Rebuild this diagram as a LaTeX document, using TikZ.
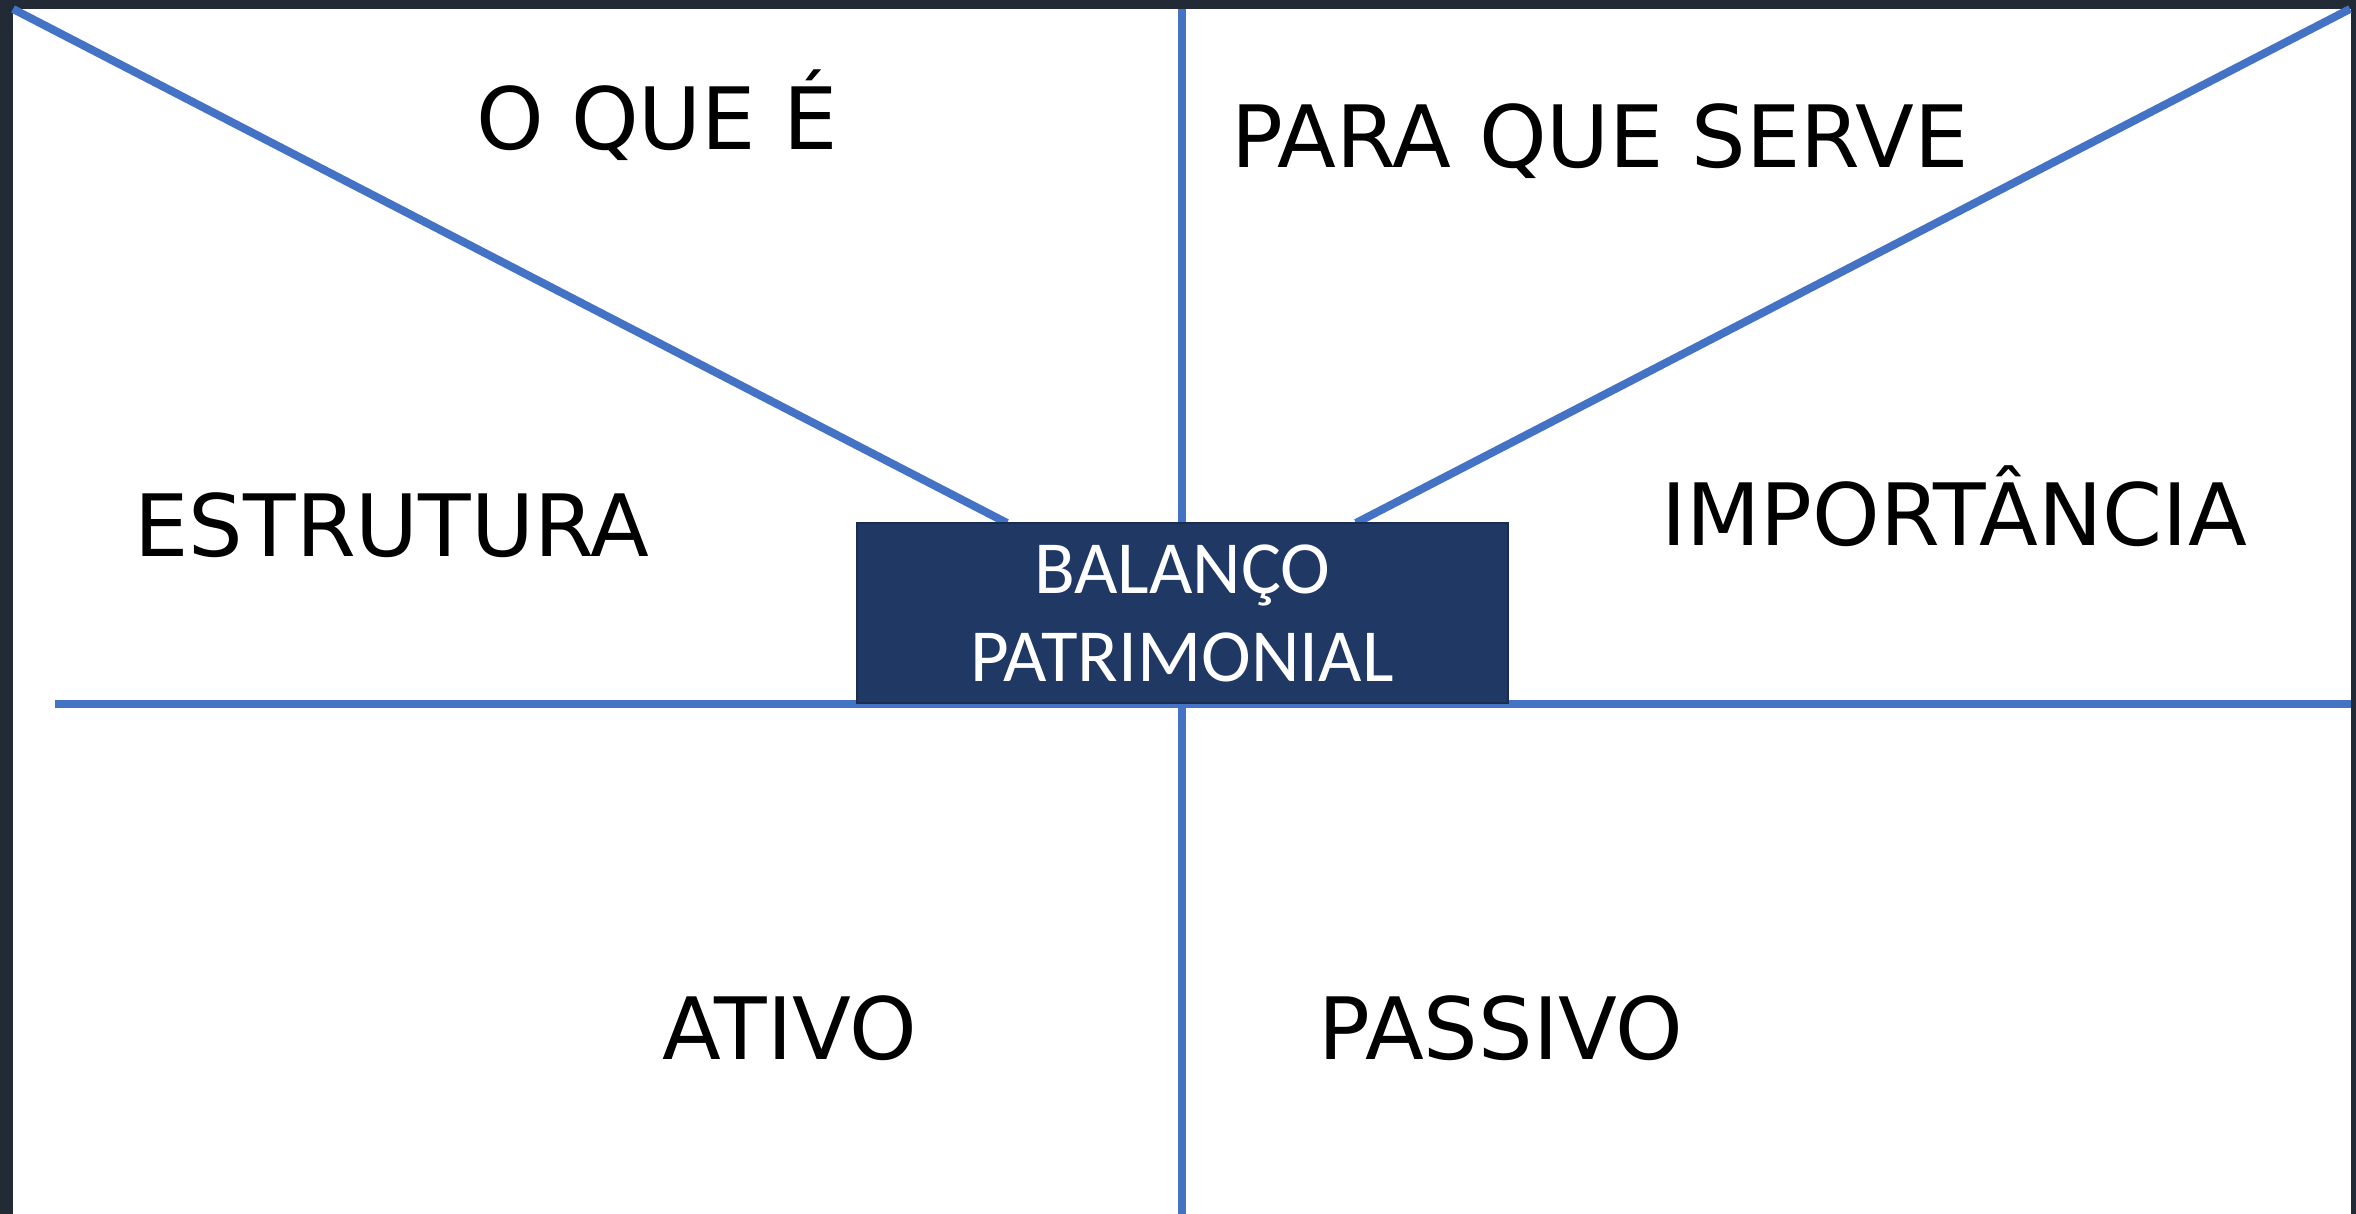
\documentclass[tikz,border=0pt]{standalone}
\usepackage{fontspec}
\setmainfont{DejaVu Sans}
\newfontfamily\boxfont{Carlito}
\definecolor{frame}{HTML}{222A35}
\definecolor{lineblue}{HTML}{4472C4}
\definecolor{boxfill}{HTML}{203864}
\definecolor{boxedge}{HTML}{1A2C50}
\tikzset{
  blueline/.style={draw=lineblue, line width=8pt},
  label/.style={anchor=base, inner sep=0pt, font=\fontsize{86}{104}\selectfont, text=black},
  centerbox/.style={fill=boxfill, draw=boxedge, line width=2pt, minimum width=651pt, minimum height=180pt, inner sep=0pt, text=white, align=center, font=\boxfont\fontsize{75}{88}\selectfont}
}
\begin{document}
\begin{tikzpicture}[x=1pt,y=-1pt]
\useasboundingbox (0,0) rectangle (2356,1214);
\fill[frame] (0,0) rectangle (2356,1214);
\fill[white] (13,9) rectangle (2351,1214);
% connector end points
\coordinate (tl) at (13,9);
\coordinate (tr) at (2350,9);
\coordinate (vt) at (1182,9);
\coordinate (vb) at (1182,1214);
\coordinate (hl) at (55,704);
\coordinate (hr) at (2351,704);
\coordinate (dl) at (1007,523);
\coordinate (dr) at (1356,523);
\draw[blueline] (vt) -- (vb);
\draw[blueline] (hl) -- (hr);
\draw[blueline] (tl) -- (dl);
\draw[blueline] (tr) -- (dr);
\node[centerbox] (bp) at (1182,613) {BALANÇO\\PATRIMONIAL};
\node[label] (oque) at (657,150) {O QUE É};
\node[label] (para) at (1600,168) {PARA QUE SERVE};
\node[label] (estr) at (392,556) {ESTRUTURA};
\node[label] (impo) at (1954,545) {IMPORTÂNCIA};
\node[label] (ativ) at (790,1059) {ATIVO};
\node[label] (pass) at (1501,1059) {PASSIVO};
\end{tikzpicture}
\end{document}
